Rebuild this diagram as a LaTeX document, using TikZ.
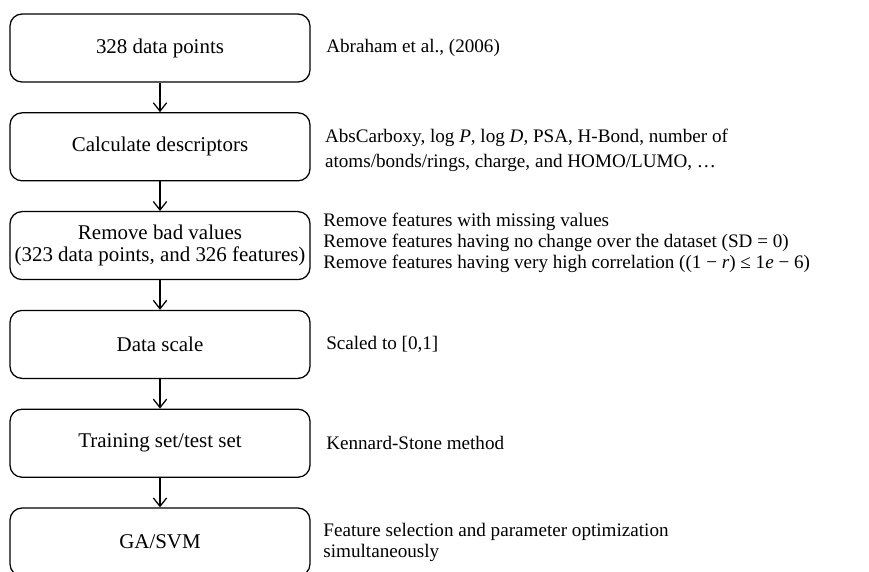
\documentclass[tikz,border=0pt]{standalone}
\usepackage{fontspec}
\setmainfont{Liberation Serif}
\usetikzlibrary{calc, arrows, arrows.meta}

\tikzset{
    stage/.style={draw, rounded corners=0.3cm, minimum width=7.5cm, minimum height=1.7cm, align=center, line width=0.9pt, inner sep=1pt, font=\fontsize{14.9}{15.6}\selectfont},
    note/.style={anchor=west, align=left, inner sep=0pt, font=\fontsize{13.6}{14.9}\selectfont},
}

\begin{document}
\begin{tikzpicture}[>={Straight Barb[length=6pt, width=9.5pt]}]
        \useasboundingbox (0,0) rectangle (21.725,-14.275);
        \clip (0,0) rectangle (21.725,-14.275);
        % steps on the left
        \node[stage] (pts) at (4,-1.2) {328 data points};
        \node[stage] (desc) at (4,-3.67) {Calculate descriptors};
        \node[stage] (clean) at (4,-6.14) {Remove bad values\\(323 data points, and 326 features)};
        \node[stage] (scale) at (4,-8.61) {Data scale};
        \node[stage] (split) at (4,-11.08) {Training set/test set};
        \node[stage] (gasvm) at (4,-13.55) {GA/SVM};
        % notes on the right
        \node[note] (ref) at (8.15,-1.2) {Abraham et al., (2006)};
        \node[note] (descnote) at (8.12,-3.75) {AbsCarboxy, log \textit{P}, log \textit{D}, PSA, H-Bond, number of\\[3pt]atoms/bonds/rings, charge, and HOMO/LUMO, \dots};
        \node[note] (cleannote) at (8.08,-6.08) {Remove features with missing values\\Remove features having no change over the dataset (SD = 0)\\Remove features having very high correlation ((1 − \textit{r}) ≤ 1\textit{e} − 6)};
        \node[note] (scalenote) at (8.15,-8.61) {Scaled to [0,1]};
        \node[note] (splitnote) at (8.15,-11.08) {Kennard-Stone method};
        \node[note] (gasvmnote) at (8.08,-13.55) {Feature selection and parameter optimization\\simultaneously};
        \foreach \a/\b in {pts/desc, desc/clean, clean/scale, scale/split, split/gasvm}
            \draw[->, line width=0.9pt] (\a) -- (\b);
\end{tikzpicture}
\end{document}
